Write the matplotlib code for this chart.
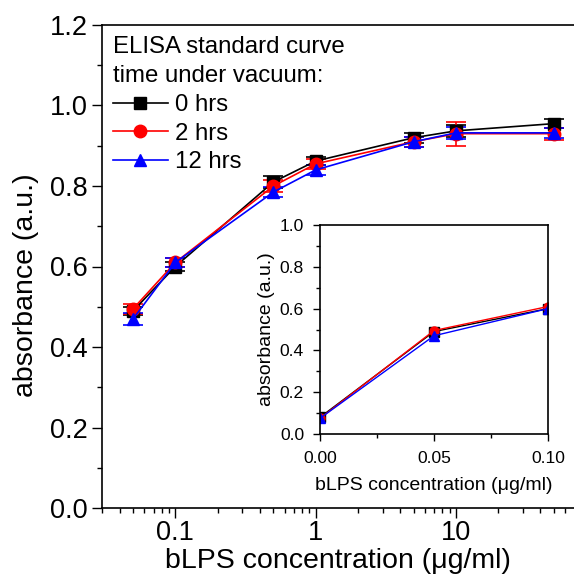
import matplotlib
matplotlib.use("Agg")
import matplotlib.pyplot as plt
from matplotlib.ticker import MultipleLocator, LogLocator, NullFormatter, FixedLocator, FixedFormatter
from matplotlib.lines import Line2D
import numpy as np

plt.rcParams['font.family'] = ['Liberation Sans', 'DejaVu Sans']

# ---- data (main plot) ----
conc = [0.05, 0.1, 0.5, 1, 5, 10, 50]
abs_0h = [0.490, 0.600, 0.810, 0.862, 0.920, 0.937, 0.955]
abs_2h = [0.495, 0.610, 0.800, 0.855, 0.910, 0.930, 0.930]
abs_12h = [0.470, 0.610, 0.785, 0.840, 0.910, 0.932, 0.932]
err_0h = [0.010, 0.012, 0.015, 0.010, 0.012, 0.015, 0.012]
err_2h = [0.012, 0.012, 0.015, 0.012, 0.012, 0.030, 0.015]
err_12h = [0.015, 0.010, 0.012, 0.012, 0.012, 0.015, 0.012]
labels = ["0 hrs", "2 hrs", "12 hrs"]

# ---- data (inset) ----
conc_in = [0.0, 0.05, 0.1]
abs_in_0h = [0.080, 0.490, 0.600]
abs_in_2h = [0.075, 0.495, 0.610]
abs_in_12h = [0.075, 0.470, 0.600]

colors = ['black', 'red', 'blue']
markers = ['s', 'o', '^']

fig = plt.figure(figsize=(5.74, 5.80), dpi=100)
ax = fig.add_axes([102/574, 72/580, 494.3/574, 483/580])

handles = []
for y, e, c, m, lab in zip([abs_0h, abs_2h, abs_12h], [err_0h, err_2h, err_12h], colors, markers, labels):
    ax.errorbar(conc, y, yerr=e, color=c, marker=m, markersize=9, lw=1.2,
                capsize=7, capthick=1.2, elinewidth=1.2)
    handles.append(Line2D([], [], color=c, marker=m, markersize=9, lw=1.2))

ax.set_xscale('log')
ax.set_xlim(0.03, 100)
ax.set_ylim(0, 1.2)
ax.yaxis.set_major_locator(MultipleLocator(0.2))
ax.yaxis.set_minor_locator(MultipleLocator(0.1))
ax.yaxis.set_major_formatter(plt.FuncFormatter(lambda v, p: f"{v:.1f}"))
ax.xaxis.set_major_locator(FixedLocator([0.1, 1, 10]))
ax.xaxis.set_major_formatter(FixedFormatter(["0.1", "1", "10"]))
ax.xaxis.set_minor_locator(LogLocator(base=10, subs=np.arange(2, 10)))
ax.xaxis.set_minor_formatter(NullFormatter())
ax.tick_params(which='major', direction='out', length=7, width=1, labelsize=19.5,
               pad=3, top=False, right=False)
ax.tick_params(axis='x', which='major', pad=2)
ax.tick_params(which='minor', direction='out', length=3.6, width=1, top=False, right=False)
for s in ax.spines.values():
    s.set_linewidth(1.2)
ax.set_xlabel("bLPS concentration (\u03bcg/ml)", fontsize=20.5, va='top')
ax.xaxis.set_label_coords(0.4764, -0.083)
ax.set_ylabel("absorbance (a.u.)", fontsize=20.5)
ax.yaxis.set_label_coords(-0.1275, 0.4617)

leg = ax.legend(handles=handles, labels=labels, loc='upper left',
                title="ELISA standard curve\ntime under vacuum:", title_fontsize=17.3,
                fontsize=17.3, frameon=False, alignment='left', handlelength=2.3,
                handletextpad=0.3, labelspacing=0.28, borderaxespad=0.15,
                borderpad=0.3)
leg.get_title().set_linespacing(1.44)

# ---- inset ----
axi = fig.add_axes([320/574, 146/580, 228/574, 209/580])
for y, c, m in zip([abs_in_0h, abs_in_2h, abs_in_12h], colors, markers):
    axi.plot(conc_in, y, color=c, marker=m, markersize=6.5, lw=1.0)
axi.set_xlim(0, 0.1)
axi.set_ylim(0, 1.0)
axi.xaxis.set_major_locator(MultipleLocator(0.05))
axi.xaxis.set_minor_locator(MultipleLocator(0.025))
axi.yaxis.set_major_locator(MultipleLocator(0.2))
axi.yaxis.set_minor_locator(MultipleLocator(0.1))
axi.xaxis.set_major_formatter(plt.FuncFormatter(lambda v, p: f"{v:.2f}"))
axi.yaxis.set_major_formatter(plt.FuncFormatter(lambda v, p: f"{v:.1f}"))
axi.tick_params(which='major', direction='out', length=5, width=1, labelsize=12.6)
axi.tick_params(axis='x', which='major', pad=7)
axi.tick_params(axis='y', which='major', pad=6.5)
axi.tick_params(which='minor', direction='out', length=3, width=1)
for s in axi.spines.values():
    s.set_linewidth(1.2)
axi.set_xlabel("bLPS concentration (\u03bcg/ml)", fontsize=14, va='top')
axi.xaxis.set_label_coords(0.5, -0.205)
axi.set_ylabel("absorbance (a.u.)", fontsize=14)
axi.yaxis.set_label_coords(-0.197, 0.5)

fig.savefig("out.png", dpi=100)
